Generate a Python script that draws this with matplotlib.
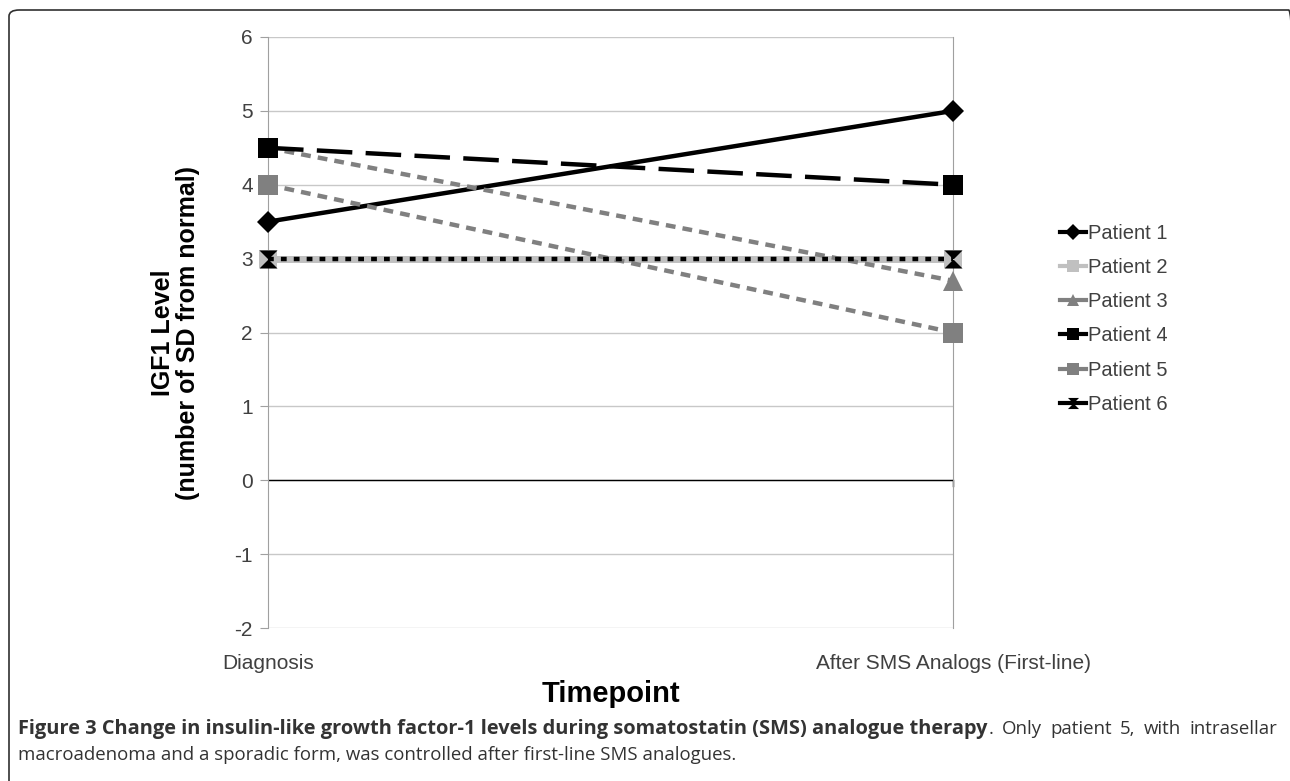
import matplotlib.pyplot as plt
from matplotlib.path import Path
from matplotlib.patches import FancyBboxPatch
from matplotlib.lines import Line2D

timepoints = ['Diagnosis', 'After SMS Analogs (First-line)']
patients = ['Patient 1', 'Patient 2', 'Patient 3', 'Patient 4', 'Patient 5', 'Patient 6']
values = [
    [3.5, 5.0],
    [3.0, 3.0],
    [4.5, 2.7],
    [4.5, 4.0],
    [4.0, 2.0],
    [3.0, 3.0],
]
y_ticks = [-2, -1, 0, 1, 2, 3, 4, 5, 6]

plt.rcParams['font.family'] = ['Liberation Sans', 'DejaVu Sans']

# hourglass marker for patient 6
hourglass = Path([(-1, 1), (1, 1), (-1, -1), (1, -1), (-1, 1)],
                 [Path.MOVETO, Path.LINETO, Path.LINETO, Path.LINETO, Path.CLOSEPOLY])

styles = [
    dict(color='black', ls='-', marker='D', ms=11),
    dict(color='#c0c0c0', ls='-', marker='s', ms=13, lw=5),
    dict(color='#808080', ls=(0, (2.2, 1.6)), marker='^', ms=14),
    dict(color='black', ls=(0, (8, 3)), marker='s', ms=14),
    dict(color='#808080', ls=(0, (2.2, 1.6)), marker='s', ms=14),
    dict(color='black', ls=(0, (1.3, 1.6)), marker=hourglass, ms=13),
]

fig = plt.figure(figsize=(12.9, 7.81), dpi=100)
ax = fig.add_axes([268 / 1290, 1 - 628 / 781, (953 - 268) / 1290, (628 - 37) / 781])

x = list(range(len(timepoints)))
for name, vals, st in zip(patients, values, styles):
    ax.plot(x, vals, color=st['color'], linestyle=st['ls'], linewidth=st.get('lw', 3.2),
            marker=st['marker'], markersize=st['ms'], markeredgewidth=0,
            label=name, clip_on=False, zorder=3)

ax.set_xlim(0, 1)
ax.set_ylim(-2, 6)
ax.set_yticks(y_ticks)
ax.set_yticklabels([str(v) for v in y_ticks])
ax.set_xticks(x)
ax.set_xticklabels(timepoints)
ax.grid(axis='y', color='#c8c8c8', linewidth=1)
ax.axhline(0, color='black', linewidth=1, zorder=2)
ax.plot([1, 1], [0, -0.08], color='black', linewidth=1, clip_on=False)
for s in ['top', 'bottom']:
    ax.spines[s].set_visible(False)
ax.spines['left'].set_color('#a0a0a0')
ax.spines['right'].set_color('#a0a0a0')
ax.tick_params(axis='y', length=6, color='#a0a0a0', labelsize=15, labelcolor='#404040', pad=5)
ax.tick_params(axis='x', length=0, labelsize=15, labelcolor='#404040', pad=19)

ax.set_ylabel('IGF1 Level\n(number of SD from normal)', fontsize=18, fontweight='bold',
              linespacing=1.0, labelpad=25)
ax.set_xlabel('Timepoint', fontsize=21, fontweight='bold', labelpad=5)

handles = []
for name, st in zip(patients, styles):
    handles.append(Line2D([], [], color=st['color'], linestyle='-', linewidth=3,
                          marker=st['marker'], markersize=8, markeredgewidth=0))
leg = ax.legend(handles, patients, loc='center left', bbox_to_anchor=(1.13, 0.523),
                frameon=False, fontsize=14.5, handlelength=1.3, handletextpad=0.1,
                labelspacing=0.75, labelcolor='#404040')

# rounded border (right and bottom edges run off the picture)
fig.patches.append(FancyBboxPatch((9 / 1290, -8 / 781), 1290 / 1290, 779 / 781,
                                  boxstyle='round,pad=0,rounding_size=0.008',
                                  transform=fig.transFigure, fill=False,
                                  edgecolor='#303030', linewidth=1.2))

# caption: fit font sizes to the widths in the reference
cap_font = ['Open Sans', 'DejaVu Sans']
renderer = fig.canvas.get_renderer()


def fitted_text(xp, yp, s, target_w, **kw):
    t = fig.text(xp, yp, s, fontsize=11, family=cap_font, va='center', color='#333333', **kw)
    w = t.get_window_extent(renderer).width
    t.set_fontsize(11 * target_w / w)
    return t


y1 = 1 - 729 / 781
bold = fitted_text(18 / 1290, y1,
                   'Figure 3 Change in insulin-like growth factor-1 levels during somatostatin (SMS) analogue therapy',
                   972, fontweight='bold')
line2 = fitted_text(18 / 1290, 1 - 755 / 781,
                    'macroadenoma and a sporadic form, was controlled after first-line SMS analogues.',
                    719)
norm_size = line2.get_fontsize()
x_pos = bold.get_window_extent(renderer).x1 + 1
words = '. Only patient 5, with intrasellar'.split(' ')
pieces = [fig.text(0, y1, w, fontsize=norm_size, family=cap_font, va='center', color='#333333')
          for w in words]
widths = [p.get_window_extent(renderer).width for p in pieces]
gap = (1277 - x_pos - sum(widths)) / (len(words) - 1)
for p, w in zip(pieces, widths):
    p.set_x(x_pos / 1290)
    x_pos += w + gap

fig.savefig('out.png', dpi=100)
